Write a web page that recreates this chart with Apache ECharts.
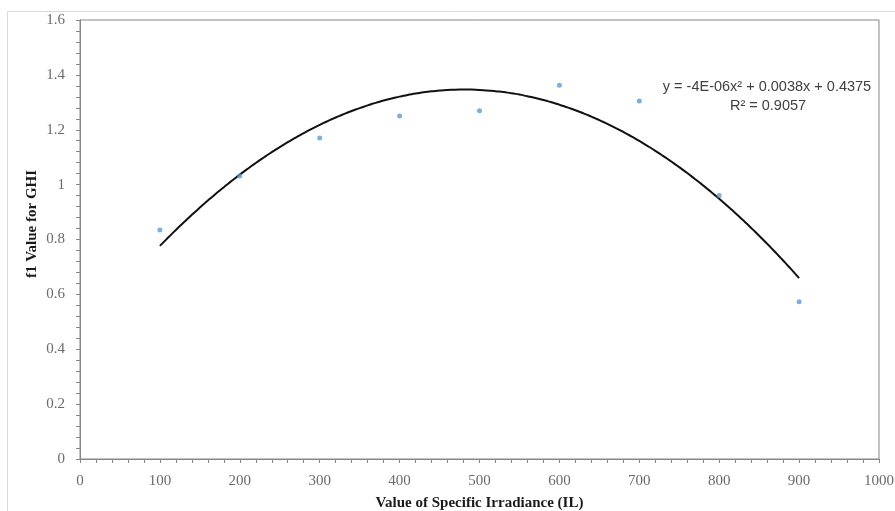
<!DOCTYPE html>
<html>
<head>
<meta charset="utf-8">
<script src="https://cdn.jsdelivr.net/npm/echarts@6/dist/echarts.min.js"></script>
<style>
html,body{margin:0;padding:0;background:#fff;}
#chart{width:895px;height:511px;}
</style>
</head>
<body>
<div id="chart"></div>
<script>
// Data
const irradiance = [100, 200, 300, 400, 500, 600, 700, 800, 900];
const f1Values = [0.835, 1.031, 1.170, 1.250, 1.269, 1.362, 1.305, 0.960, 0.573];
const xTitle = 'Value of Specific Irradiance (IL)';
const yTitle = 'f1 Value for GHI';
const equationText = 'y = -4E-06x² + 0.0038x + 0.4375';
const r2Text = 'R² = 0.9057';

// Polynomial (order 2) least-squares trendline, as the spreadsheet computes it
function quadFit(xs, ys) {
  const n = xs.length;
  let s = [0, 0, 0, 0, 0], t = [0, 0, 0];
  for (let i = 0; i < n; i++) {
    let p = 1;
    for (let k = 0; k < 5; k++) { s[k] += p; if (k < 3) t[k] += p * ys[i]; p *= xs[i]; }
  }
  const M = [[s[0], s[1], s[2], t[0]], [s[1], s[2], s[3], t[1]], [s[2], s[3], s[4], t[2]]];
  for (let c = 0; c < 3; c++) {
    for (let r = c + 1; r < 3; r++) {
      const f = M[r][c] / M[c][c];
      for (let k = c; k < 4; k++) M[r][k] -= f * M[c][k];
    }
  }
  const coef = [0, 0, 0];
  for (let r = 2; r >= 0; r--) {
    let v = M[r][3];
    for (let k = r + 1; k < 3; k++) v -= M[r][k] * coef[k];
    coef[r] = v / M[r][r];
  }
  return coef;
}
const coef = quadFit(irradiance, f1Values);
const trend = [];
for (let x = irradiance[0]; x <= irradiance[irradiance.length - 1]; x += 5) {
  trend.push([x, coef[0] + coef[1] * x + coef[2] * x * x]);
}

const chart = echarts.init(document.getElementById('chart'), null, {renderer: 'canvas'});
const serif = '"Liberation Serif", "Times New Roman", serif';
const axisGray = '#868686';
chart.setOption({
  animation: false,
  backgroundColor: '#fff',
  grid: {left: 80, right: 16, top: 20, bottom: 52, show: true, borderColor: axisGray, borderWidth: 1,
         containLabel: false, outerBoundsMode: 'none'},
  xAxis: {
    type: 'value', min: 0, max: 1000, interval: 100,
    name: xTitle, nameLocation: 'middle', nameGap: 37,
    nameTextStyle: {fontFamily: serif, fontWeight: 'bold', fontSize: 15, color: '#1a1a1a'},
    axisLine: {show: true, lineStyle: {color: axisGray}},
    axisTick: {show: true, length: 4, lineStyle: {color: axisGray}},
    minorTick: {show: true, splitNumber: 5, length: 4, lineStyle: {color: axisGray}},
    splitLine: {show: false},
    axisLabel: {fontFamily: serif, fontSize: 15, color: '#6b6b6b', margin: 15, formatter: v => String(v)}
  },
  yAxis: {
    type: 'value', min: 0, max: 1.6, interval: 0.2,
    axisLine: {show: true, lineStyle: {color: axisGray}},
    axisTick: {show: true, length: 4, lineStyle: {color: axisGray}},
    minorTick: {show: true, splitNumber: 5, length: 4, lineStyle: {color: axisGray}},
    splitLine: {show: false},
    axisLabel: {fontFamily: serif, fontSize: 15, color: '#6b6b6b', margin: 15}
  },
  graphic: [
    {type: 'rect', shape: {x: 7.5, y: 11.5, width: 1000, height: 600}, style: {fill: 'none', stroke: '#d9d9d9', lineWidth: 1}, z: -1},
    {type: 'text', x: 32, y: 224, rotation: Math.PI / 2, style: {text: yTitle, font: 'bold 15px ' + serif, fill: '#1a1a1a', textAlign: 'center', textVerticalAlign: 'middle'}},
    {type: 'text', x: 767, y: 87, style: {text: equationText, font: '14.5px "Liberation Sans", Arial, sans-serif', fill: '#404040', textAlign: 'center', textVerticalAlign: 'middle'}},
    {type: 'text', x: 768, y: 106, style: {text: r2Text, font: '14.5px "Liberation Sans", Arial, sans-serif', fill: '#404040', textAlign: 'center', textVerticalAlign: 'middle'}}
  ],
  series: [
    {
      type: 'line', data: trend, showSymbol: false, smooth: true,
      lineStyle: {color: '#111', width: 2}, z: 2
    },
    {
      type: 'scatter', data: irradiance.map((x, i) => [x, f1Values[i]]),
      symbol: 'circle', symbolSize: 5,
      itemStyle: {color: '#5b9bd5'}, z: 3
    }
  ]
});
</script>
</body>
</html>
